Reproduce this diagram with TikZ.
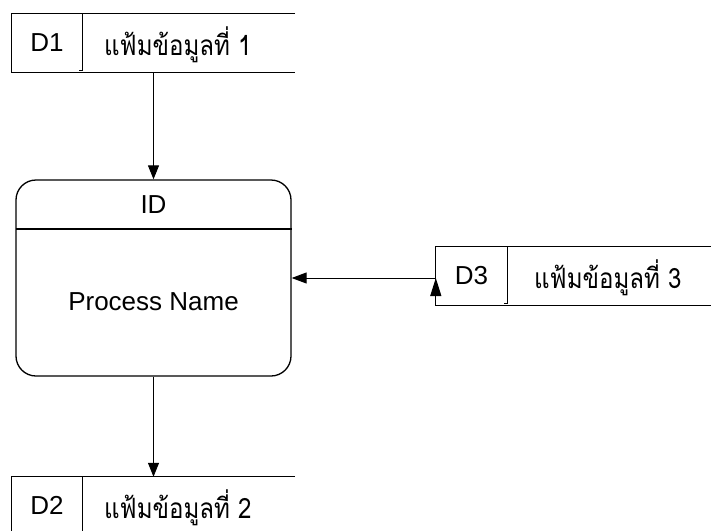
\documentclass[tikz,border=0pt]{standalone}
\usepackage{fontspec}
\setmainfont{Liberation Sans}
\newfontfamily\thaifont[Script=Thai,FakeStretch=0.86]{Loma}
\usetikzlibrary{arrows.meta,calc}
\begin{document}
\begin{tikzpicture}[x=1pt,y=-1pt,
  ln/.style={line width=1pt, draw=black},
  lbl/.style={font=\fontsize{26}{30}\selectfont, inner sep=0pt, anchor=base},
  thai/.style={font=\thaifont\fontsize{28}{32}\selectfont, inner sep=0pt, anchor=base west},
  store/.style={minimum height=58pt, inner sep=0pt, draw=none},
  tipv/.style={-{Triangle[length=14pt,width=11pt]}},
  tiph/.style={-{Triangle[length=15pt,width=11pt]}},
  tipu/.style={-{Triangle[length=18pt,width=11pt]}}]
\useasboundingbox (0,0) rectangle (711,530);

% process
\node[draw=black, line width=1.3pt, rounded corners=20pt, minimum width=275pt, minimum height=196pt, inner sep=0pt] (p) at (153.5,278) {};
\coordinate (pdl) at (15.5,229);
\coordinate (pdr) at (291.5,229);
\draw[line width=1.2pt] (pdl) -- (pdr);
\node[lbl] (pid) at (153.5,213) {ID};
\node[lbl] (pname) at (153.5,310) {Process Name};

% D1
\node[store, minimum width=283pt] (d1) at (153.5,43) {};
\draw[ln] (d1.north east) -- (d1.north west) -- (d1.south west) -- (d1.south east);
\draw[ln] (82,14) -- (82,70) -- (79,70);
\node[lbl] (d1id) at (47,51.5) {D1};
\node[thai] (d1name) at (104,55) {แฟ้มข้อมูลที่ 1};

% D2
\node[store, minimum width=283pt] (d2) at (153.5,506) {};
\draw[ln] (d2.north east) -- (d2.north west) -- (d2.south west) -- (d2.south east);
\draw[ln] (82,477) -- (82,533);
\node[lbl] (d2id) at (47,514.5) {D2};
\node[thai] (d2name) at (104,518) {แฟ้มข้อมูลที่ 2};

% D3
\node[store, minimum width=276pt] (d3) at (574,276) {};
\draw[ln] (d3.north east) -- (d3.north west) -- (d3.south west) -- (d3.south east);
\draw[ln] (507,247) -- (507,303) -- (504,303);
\node[lbl] (d3id) at (471.5,284.5) {D3};
\node[thai] (d3name) at (534,288) {แฟ้มข้อมูลที่ 3};

% connectors
\draw[ln, tipv] (d1.south) -- (p.north);
\draw[ln, tipv] (p.south) -- (d2.north);
\coordinate (d3in) at ($(d3.west)+(0,2)$);
\draw[ln, tiph] (d3in) -- (d3in -| p.east);
\coordinate (d3up) at ($(d3.west)+(0,20)$);
\draw[ln, tipu] (d3up) -- (d3in);
\end{tikzpicture}
\end{document}
